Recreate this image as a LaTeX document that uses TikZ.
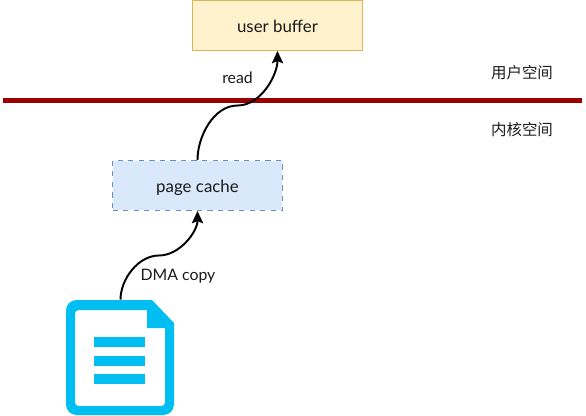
\documentclass[tikz,border=0pt]{standalone}
\usepackage{fontspec}
\setmainfont{Lato}
\newfontfamily\cjkfont{Noto Sans CJK SC}
\usetikzlibrary{arrows.meta}
\definecolor{bufferfill}{HTML}{FFF2CC}
\definecolor{bufferline}{HTML}{D6B656}
\definecolor{cachefill}{HTML}{DAE8FC}
\definecolor{cacheline}{HTML}{6C8EBF}
\definecolor{barred}{HTML}{990000}
\definecolor{docblue}{HTML}{00BEF2}
\definecolor{textgray}{HTML}{1A1A1A}

\begin{document}
\begin{tikzpicture}[
    x=0.02cm, y=-0.02cm,
    box/.style={rectangle, minimum width=3.4cm, minimum height=1cm,
                line width=0.5pt, align=center, text height=7.4pt, text depth=0pt,
                font=\fontsize{9.6}{11}\selectfont, text=textgray},
    flow/.style={-{Stealth[length=7pt,width=6.4pt,inset=1.2pt]}, line width=1.1pt, black},
    lbl/.style={font=\fontsize{9}{11}\selectfont, text=textgray, inner sep=0pt},
    zone/.style={font=\fontsize{8.8}{11}\selectfont\cjkfont, text=textgray, inner sep=0pt}
]
\useasboundingbox (0,0) rectangle (586,416);

\node[box, draw=bufferline, fill=bufferfill] (buffer) at (277.5,25.5) {user buffer};
\node[box, draw=cacheline, fill=cachefill, dashed] (cache) at (197.5,185.5) {page cache};
\node[minimum width=2.18cm, minimum height=2.3cm, inner sep=0pt] (doc) at (120.5,357.5) {};

% kernel boundary
\coordinate (barL) at (3,100.5);
\coordinate (barR) at (582,100.5);
\draw[barred, line width=2.9pt] (barL) -- (barR);

\node[zone] (user) at (522,73) {用户空间};
\node[zone] (kernel) at (522,130) {内核空间};

% file icon
\fill[docblue, even odd rule]
    [rounded corners=6pt] (66,345) -- (66,300) [sharp corners] -- (152,300) -- (174,323)
    [rounded corners=6pt] -- (174,415) -- (66,415) -- cycle
    [rounded corners=2pt] (75,345) -- (75,310) [sharp corners] -- (147,310) -- (147,328) -- (165,328)
    [rounded corners=2pt] -- (165,406) -- (75,406) -- cycle;
\fill[docblue] (94,337) rectangle (145,347);
\fill[docblue] (94,356) rectangle (145,366);
\fill[docblue] (94,374) rectangle (145,384);

\coordinate (readmid) at (237.5,105.5);
\coordinate (dmamid) at (159,255.5);
\draw[flow] (cache.north) to[out=90,in=180,looseness=0.9] (readmid) to[out=0,in=-90,looseness=0.9] (buffer.south);
\draw[flow] (doc.north) to[out=90,in=180,looseness=0.9] (dmamid) to[out=0,in=-90,looseness=0.9] (cache.south);

\node[lbl] (read) at (237.5,78) {read};
\node[lbl] (dma) at (178,276) {DMA copy};

\end{tikzpicture}
\end{document}
